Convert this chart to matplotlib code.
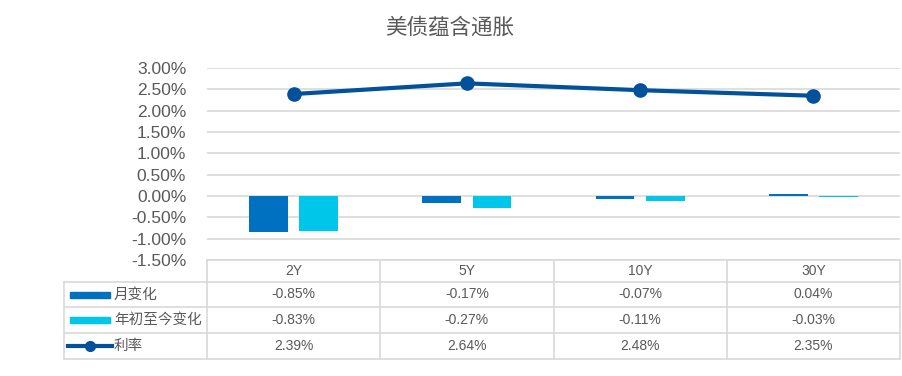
import matplotlib.pyplot as plt
from matplotlib.patches import Rectangle
from matplotlib.lines import Line2D

plt.rcParams['font.family'] = ['Liberation Sans', 'Noto Sans CJK SC', 'DejaVu Sans']

# data
cats = ['2Y', '5Y', '10Y', '30Y']
month_chg = [-0.85, -0.17, -0.07, 0.04]
ytd_chg = [-0.83, -0.27, -0.11, -0.03]
rate = [2.39, 2.64, 2.48, 2.35]
series_names = ['月变化', '年初至今变化', '利率']
title = '美债蕴含通胀'

c_month = '#0070C0'
c_ytd = '#00C6EA'
c_rate = '#02519A'
c_grid = '#D9D9D9'
c_text = '#595959'

W, H = 902, 376
fig = plt.figure(figsize=(W / 100, H / 100), dpi=100)

# plot area in pixels
x0, x1 = 207, 900
y_top, y_bot = 68, 260
ax = fig.add_axes([x0 / W, (H - y_bot) / H, (x1 - x0) / W, (y_bot - y_top) / H])

xs = list(range(len(cats)))
ax.bar([x - 0.145 for x in xs], month_chg, width=0.225, color=c_month, zorder=3)
ax.bar([x + 0.145 for x in xs], ytd_chg, width=0.225, color=c_ytd, zorder=3)
ax.plot(xs, rate, color=c_rate, lw=3, marker='o', ms=9.5, zorder=4)

ax.set_xlim(-0.5, len(cats) - 0.5)
ax.set_ylim(-1.5, 3.0)
ticks = [-1.5 + 0.5 * i for i in range(10)]
ax.set_yticks(ticks)
ax.set_yticklabels(['%.2f%%' % t for t in ticks], fontsize=12.5, color=c_text)
ax.set_xticks([])
ax.tick_params(axis='y', length=0, pad=15)
for s in ax.spines.values():
    s.set_visible(False)
ax.grid(axis='y', color=c_grid, lw=1.2, zorder=0)

fig.text(450 / W, 1 - 28 / H, title, ha='center', va='center', fontsize=15.5, color=c_text)

# data table overlay in pixel coords
tab = fig.add_axes([0, 0, 1, 1])
tab.set_xlim(0, W)
tab.set_ylim(H, 0)
tab.axis('off')
tab.patch.set_alpha(0)

col_w = (x1 - x0) / len(cats)
col_edges = [x0 + i * col_w for i in range(len(cats) + 1)]
row_edges = [260, 282, 307, 333, 359]
left = 64
lk = dict(color=c_grid, lw=1.2)
tab.plot([x0, x1], [row_edges[0], row_edges[0]], **lk)
for y in row_edges[1:]:
    tab.plot([left, x1], [y, y], **lk)
tab.plot([left, left], [row_edges[1], row_edges[-1]], **lk)
for x in col_edges:
    tab.plot([x, x], [row_edges[0], row_edges[-1]], **lk)

for i, c in enumerate(cats):
    cx = (col_edges[i] + col_edges[i + 1]) / 2
    tab.text(cx, (row_edges[0] + row_edges[1]) / 2, c, ha='center', va='center',
             fontsize=10, color=c_text)
    for r, vals in enumerate([month_chg, ytd_chg, rate]):
        cy = (row_edges[r + 1] + row_edges[r + 2]) / 2
        tab.text(cx, cy, '%.2f%%' % vals[i], ha='center', va='center',
                 fontsize=10, color=c_text)

# legend keys
for r, name in enumerate(series_names):
    cy = (row_edges[r + 1] + row_edges[r + 2]) / 2
    if r < 2:
        col = c_month if r == 0 else c_ytd
        tab.add_patch(Rectangle((70, cy - 3), 40, 6, color=col))
    else:
        tab.add_line(Line2D([68, 112], [cy, cy], color=c_rate, lw=3))
        tab.plot([90], [cy], 'o', color=c_rate, ms=7)
    tab.text(114, cy, name, ha='left', va='center', fontsize=10.5, color=c_text)

fig.savefig('out.png', dpi=100)
